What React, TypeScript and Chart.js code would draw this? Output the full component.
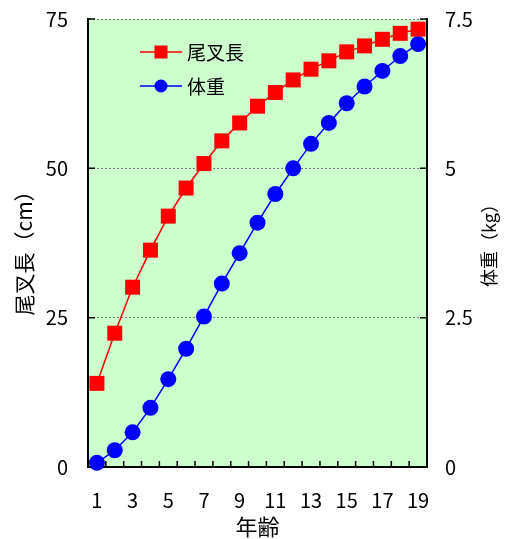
import React, { useEffect, useRef } from "react";
import { Chart, registerables } from "chart.js";

Chart.register(...registerables);

const ages = ["1","2","3","4","5","6","7","8","9","10","11","12","13","14","15","16","17","18","19"];
const forkLength = [14.0, 22.4, 30.1, 36.3, 42.0, 46.7, 50.8, 54.6, 57.6, 60.4, 62.7, 64.8, 66.6, 68.0, 69.5, 70.5, 71.6, 72.6, 73.3];
const bodyWeight = [0.07, 0.28, 0.58, 0.99, 1.47, 1.98, 2.52, 3.07, 3.58, 4.09, 4.57, 5.0, 5.41, 5.76, 6.09, 6.37, 6.63, 6.88, 7.08];
const leftTicks = [0, 25, 50, 75];
const rightTicks = [0, 2.5, 5, 7.5];
const seriesNames = ["尾叉長", "体重"];
const leftTitle = "尾叉長（cm）";
const rightTitle = "体重（kg）";
const xTitle = "年齢";

const FONT = "'Noto Sans CJK JP', 'Noto Sans', sans-serif";

const decorPlugin = {
  id: "decor",
  beforeDraw(chart: any) {
    const { ctx, chartArea } = chart;
    ctx.save();
    ctx.fillStyle = "#ccffcc";
    ctx.fillRect(chartArea.left, chartArea.top, chartArea.right - chartArea.left, chartArea.bottom - chartArea.top);
    ctx.restore();
  },
  beforeDatasetsDraw(chart: any) {
    const { ctx, chartArea, scales } = chart;
    ctx.save();
    ctx.strokeStyle = "#000";
    ctx.lineWidth = 1.5;
    ctx.beginPath();
    const xs = scales.x;
    for (let k = 1; k < ages.length; k++) {
      const px = (xs.getPixelForValue(k - 1) + xs.getPixelForValue(k)) / 2;
      ctx.moveTo(px, chartArea.bottom);
      ctx.lineTo(px, chartArea.bottom - 6);
    }
    leftTicks.slice(1).forEach((v) => {
      const py = scales.y.getPixelForValue(v);
      ctx.moveTo(chartArea.left, py);
      ctx.lineTo(chartArea.left + 7, py);
    });
    rightTicks.slice(1).forEach((v) => {
      const py = scales.y1.getPixelForValue(v);
      ctx.moveTo(chartArea.right, py);
      ctx.lineTo(chartArea.right - 7, py);
    });
    ctx.stroke();
    ctx.restore();
  },
  afterDraw(chart: any) {
    const { ctx, chartArea } = chart;
    ctx.save();
    const items = chart.data.datasets.map((ds: any, i: number) => ({ ds, y: 52 + i * 34 }));
    items.forEach(({ ds, y }: any) => {
      ctx.strokeStyle = ds.borderColor;
      ctx.lineWidth = 1.5;
      ctx.beginPath();
      ctx.moveTo(140, y);
      ctx.lineTo(182, y);
      ctx.stroke();
      ctx.fillStyle = ds.backgroundColor;
      if (ds.pointStyle === "rect") {
        ctx.fillRect(161 - 6.5, y - 6.5, 13, 13);
      } else {
        ctx.beginPath();
        ctx.arc(161, y, 6.5, 0, Math.PI * 2);
        ctx.fill();
      }
      ctx.fillStyle = "#000";
      ctx.font = `19px ${FONT}`;
      ctx.textAlign = "left";
      ctx.textBaseline = "middle";
      ctx.fillText(ds.label, 187, y + 1);
    });
    ctx.fillStyle = "#000";
    ctx.textAlign = "center";
    ctx.textBaseline = "middle";
    ctx.save();
    ctx.translate(24, 248);
    ctx.rotate(-Math.PI / 2);
    ctx.font = `21px ${FONT}`;
    ctx.fillText(leftTitle, 0, 0);
    ctx.restore();
    ctx.save();
    ctx.translate(489, 241);
    ctx.rotate(-Math.PI / 2);
    ctx.font = `18px ${FONT}`;
    ctx.fillText(rightTitle, 0, 0);
    ctx.restore();
    ctx.font = `22px ${FONT}`;
    ctx.fillText(xTitle, (chartArea.left + chartArea.right) / 2, 527);
    ctx.restore();
  },
};

export default function App() {
  const ref = useRef<HTMLCanvasElement | null>(null);
  useEffect(() => {
    document.body.style.margin = "0";
    const canvas = ref.current!;
    const tickFont = { family: FONT, size: 20 };
    const zeroPad = (s: any) => {
      s.paddingTop = 0;
      s.paddingBottom = 0;
      s.paddingLeft = 0;
      s.paddingRight = 0;
    };
    const chart = new Chart(canvas, {
      type: "line",
      data: {
        labels: ages,
        datasets: [
          {
            label: seriesNames[0],
            data: forkLength,
            yAxisID: "y",
            borderColor: "#ff0000",
            backgroundColor: "#ff0000",
            borderWidth: 1.5,
            pointStyle: "rect",
            pointRadius: 10.6,
            pointBorderWidth: 0,
            pointBackgroundColor: "#ff0000",
            clip: false,
          } as any,
          {
            label: seriesNames[1],
            data: bodyWeight,
            yAxisID: "y1",
            borderColor: "#0000ff",
            backgroundColor: "#0000ff",
            borderWidth: 1.5,
            pointStyle: "circle",
            pointRadius: 8,
            pointBorderWidth: 0,
            pointBackgroundColor: "#0000ff",
            clip: false,
          } as any,
        ],
      },
      options: {
        animation: false,
        responsive: false,
        maintainAspectRatio: false,
        layout: { padding: { top: 19, left: 0, right: 0, bottom: 0 } },
        plugins: { legend: { display: false }, tooltip: { enabled: false } },
        scales: {
          x: {
            type: "category",
            offset: true,
            grid: { display: false, drawTicks: false },
            border: { display: true, color: "#000", width: 2 },
            ticks: {
              autoSkip: false,
              maxRotation: 0,
              padding: 21,
              color: "#000",
              font: tickFont,
              callback: (_v: any, i: number) => (i % 2 === 0 ? ages[i] : ""),
            },
            afterFit: (s: any) => {
              s.height = 72;
              zeroPad(s);
            },
          },
          y: {
            position: "left",
            min: 0,
            max: 75,
            afterBuildTicks: (s: any) => {
              s.ticks = leftTicks.map((v) => ({ value: v }));
            },
            grid: {
              drawTicks: false,
              color: (c: any) => (c.tick && c.tick.value === 0 ? "rgba(0,0,0,0)" : "#7a7a7a"),
              lineWidth: 1,
            },
            border: { display: true, color: "#000", width: 2, dash: [2, 2] as any },
            ticks: { padding: 20, color: "#000", font: tickFont },
            afterFit: (s: any) => {
              s.width = 88;
              zeroPad(s);
            },
          } as any,
          y1: {
            position: "right",
            min: 0,
            max: 7.5,
            afterBuildTicks: (s: any) => {
              s.ticks = rightTicks.map((v) => ({ value: v }));
            },
            grid: { display: false, drawTicks: false },
            border: { display: true, color: "#000", width: 2 },
            ticks: { padding: 18, color: "#000", font: tickFont },
            afterFit: (s: any) => {
              s.width = 79;
              zeroPad(s);
            },
          } as any,
        },
      },
      plugins: [decorPlugin],
    });
    return () => chart.destroy();
  }, []);
  return <canvas ref={ref} width={506} height={539} style={{ display: "block" }} />;
}
